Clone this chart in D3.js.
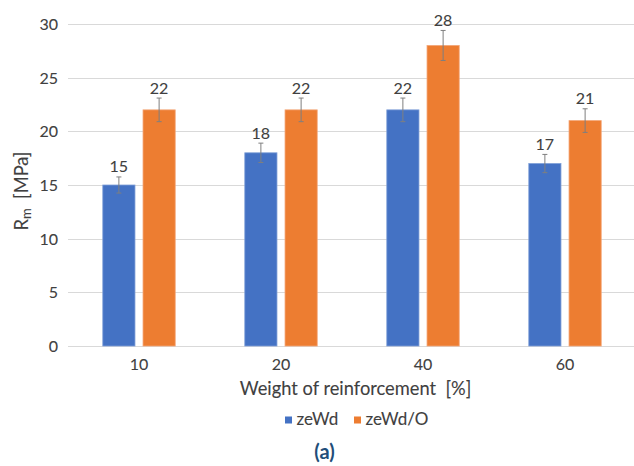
<!DOCTYPE html>
<html>
<head>
<meta charset="utf-8">
<script src="https://cdn.jsdelivr.net/npm/d3@7"></script>
<style>
  html, body { margin: 0; padding: 0; background: #fff; }
  svg { display: block; }
  text { font-family: Lato, "Open Sans", sans-serif; white-space: pre; }
</style>
</head>
<body>
<div id="chart"></div>
<script>
const categories = ["10", "20", "40", "60"];
const seriesNames = ["zeWd", "zeWd/O"];
const zeWd = [15, 18, 22, 17];
const zeWdO = [22, 22, 28, 21];
const zeWdErr = [0.75, 0.9, 1.1, 0.85];
const zeWdOErr = [1.1, 1.1, 1.4, 1.1];
const yTicks = [0, 5, 10, 15, 20, 25, 30];
const colors = ["#4472C4", "#ED7D31"];

const W = 634, H = 466;
const TXT = "#404040";
const svg = d3.select("#chart").append("svg").attr("width", W).attr("height", H);

const y = d3.scaleLinear().domain([0, 30]).range([346, 24]);
const x0 = d3.scaleBand().domain(categories).range([68, 636]).paddingInner(0.49).paddingOuter(0.245);
const x1 = d3.scaleBand().domain(seriesNames).range([0, x0.bandwidth()]).paddingInner(0.2);

function heavy(sel) {
  return sel.attr("stroke", function () { return d3.select(this).attr("fill"); })
    .attr("stroke-width", 0.1).attr("paint-order", "stroke");
}

// gridlines
svg.append("g").selectAll("line").data(yTicks).join("line")
  .attr("x1", 68).attr("x2", 634)
  .attr("y1", d => Math.round(y(d)) + 0.5).attr("y2", d => Math.round(y(d)) + 0.5)
  .attr("stroke", "#d9d9d9").attr("stroke-width", 1);

// y tick labels
const yAxis = d3.axisLeft(y).tickValues(yTicks).tickSize(0).tickPadding(0);
const gy = svg.append("g").attr("transform", "translate(58,0)").call(yAxis);
gy.select(".domain").remove();
heavy(gy.selectAll("text").attr("font-family", "Lato, 'Open Sans', sans-serif")
  .attr("font-size", 16).attr("fill", TXT).attr("dy", "0.35em"));

// x tick labels
const xAxis = d3.axisBottom(x0).tickSize(0).tickPadding(0);
const gx = svg.append("g").attr("transform", "translate(0,359)").call(xAxis);
gx.select(".domain").remove();
heavy(gx.selectAll("text").attr("font-family", "Lato, 'Open Sans', sans-serif")
  .attr("font-size", 16).attr("fill", TXT).attr("dy", "0.71em"));

const data = categories.map((c, i) => ({
  cat: c,
  vals: [
    { s: seriesNames[0], v: zeWd[i], e: zeWdErr[i], c: colors[0] },
    { s: seriesNames[1], v: zeWdO[i], e: zeWdOErr[i], c: colors[1] }
  ]
}));

const groups = svg.append("g").selectAll("g").data(data).join("g")
  .attr("transform", d => `translate(${x0(d.cat)},0)`);

groups.selectAll("rect").data(d => d.vals).join("rect")
  .attr("x", d => x1(d.s))
  .attr("y", d => y(d.v))
  .attr("width", x1.bandwidth())
  .attr("height", d => y(0) - y(d.v))
  .attr("fill", d => d.c)
  .attr("stroke", d => d.s === seriesNames[0] ? "#7f9fd8" : "#f3a677")
  .attr("stroke-width", 0.8);

// error bars
const eb = groups.selectAll("g.eb").data(d => d.vals).join("g").attr("class", "eb");
const cx = d => x1(d.s) + x1.bandwidth() / 2;
eb.append("line")
  .attr("x1", cx).attr("x2", cx)
  .attr("y1", d => y(d.v + d.e)).attr("y2", d => y(d.v - d.e))
  .attr("stroke", "#7f7f7f").attr("stroke-width", 1);
eb.append("line")
  .attr("x1", d => cx(d) - 2.5).attr("x2", d => cx(d) + 2.5)
  .attr("y1", d => y(d.v + d.e)).attr("y2", d => y(d.v + d.e))
  .attr("stroke", "#7f7f7f").attr("stroke-width", 1);
eb.append("line")
  .attr("x1", d => cx(d) - 2.5).attr("x2", d => cx(d) + 2.5)
  .attr("y1", d => y(d.v - d.e)).attr("y2", d => y(d.v - d.e))
  .attr("stroke", "#7f7f7f").attr("stroke-width", 1);

// value labels
heavy(groups.selectAll("text.val").data(d => d.vals).join("text").attr("class", "val")
  .attr("x", cx)
  .attr("y", d => y(d.v + d.e) - 4.5)
  .attr("text-anchor", "middle")
  .attr("font-size", 16).attr("fill", TXT)
  .text(d => d.v));

// x axis title
heavy(svg.append("text").attr("x", 355.5).attr("y", 395).attr("text-anchor", "middle")
  .attr("font-size", 18.3).attr("fill", TXT)
  .text("Weight of reinforcement  [%]"));

// y axis title
const yt = svg.append("text").attr("transform", "translate(27.5,191) rotate(-90)")
  .attr("text-anchor", "middle").attr("font-size", 18.3).attr("fill", TXT);
yt.append("tspan").text("R");
yt.append("tspan").attr("font-size", 13).attr("dy", 3).text("m");
yt.append("tspan").attr("dy", -3).text("  [MPa]");
heavy(yt);

// legend
const legX = [285, 354];
const lg = svg.append("g").selectAll("g").data(seriesNames).join("g")
  .attr("transform", (d, i) => `translate(${legX[i]},0)`);
lg.append("rect").attr("x", 0).attr("y", 416.5).attr("width", 7).attr("height", 7)
  .attr("fill", (d, i) => colors[i]);
heavy(lg.append("text").attr("x", 11.5).attr("y", 424.5).attr("font-size", 17).attr("fill", TXT)
  .text(d => d));

// caption
svg.append("text").attr("x", 324.5).attr("y", 459).attr("text-anchor", "middle")
  .attr("font-size", 20).attr("font-weight", "bold").attr("fill", "#1F4E79")
  .text("(a)");
</script>
</body>
</html>
